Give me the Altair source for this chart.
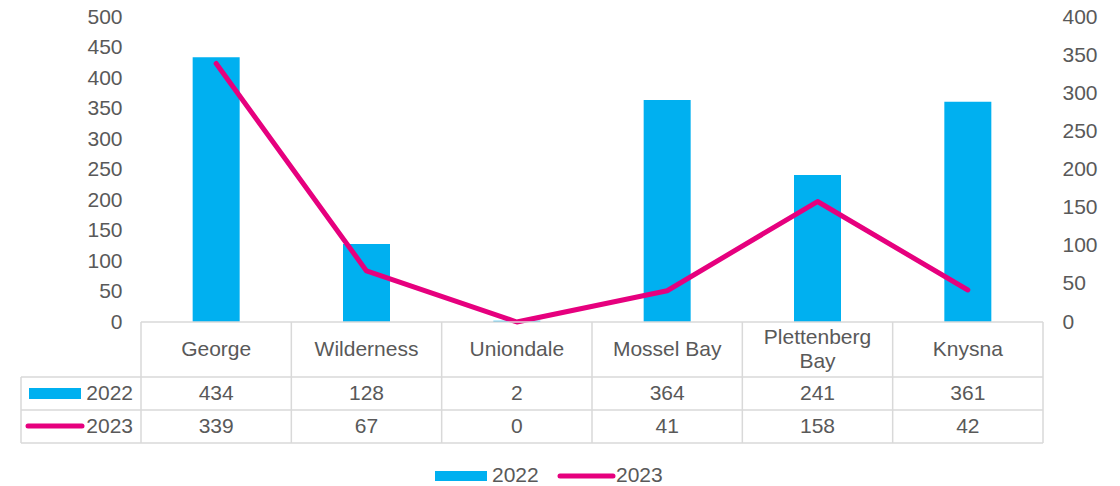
import altair as alt
import pandas as pd

# ---- data ----
categories = ["George", "Wilderness", "Uniondale", "Mossel Bay", "Plettenberg Bay", "Knysna"]
table_labels = ["George", "Wilderness", "Uniondale", "Mossel Bay", "Plettenberg\nBay", "Knysna"]
values_2022 = [434, 128, 2, 364, 241, 361]
values_2023 = [339, 67, 0, 41, 158, 42]
series_names = ["2022", "2023"]
left_ticks = list(range(0, 501, 50))
right_ticks = list(range(0, 401, 50))

df = pd.DataFrame({
    "cat": categories,
    "label": table_labels,
    "nlines": [lbl.count("\n") + 1 for lbl in table_labels],
    "v2022": values_2022,
    "v2023": values_2023,
})
one = pd.DataFrame({"k": [0]})

BLUE = "#00B0F0"
PINK = "#E6007E"
TXT = "#595959"
GRID = "#D9D9D9"
FONT = "Liberation Sans"
FS = 21

W, H = 902, 305
ROW_TOP, ROW1, ROW2, ROW3 = 305, 360, 393, 426
LEFT_EDGE = -120
LH = 24

X = alt.X("cat:N", sort=categories, scale=alt.Scale(paddingInner=0, paddingOuter=0), axis=None)

base = alt.Chart(df)

bars = base.mark_bar(color=BLUE, width=47).encode(
    x=X,
    y=alt.Y("v2022:Q", scale=alt.Scale(domain=[0, 500]),
            axis=alt.Axis(orient="left", values=left_ticks, title=None, grid=False, domain=False,
                          ticks=False, tickSize=0, labelPadding=19, labelFont=FONT,
                          labelFontSize=FS, labelColor=TXT)),
)

line = base.mark_line(color=PINK, strokeWidth=5, strokeCap="round", strokeJoin="round").encode(
    x=X,
    y=alt.Y("v2023:Q", scale=alt.Scale(domain=[0, 400]),
            axis=alt.Axis(orient="right", values=right_ticks, title=None, grid=False, domain=False,
                          ticks=False, tickSize=0, labelPadding=19, labelFont=FONT,
                          labelFontSize=FS, labelColor=TXT)),
)

# ---- data table ----
rule_kw = dict(color=GRID, strokeWidth=1.5)
deco = alt.Chart(one)
h_top = deco.mark_rule(**rule_kw).encode(x=alt.value(0), x2=alt.value(W), y=alt.value(ROW_TOP))
h1 = deco.mark_rule(**rule_kw).encode(x=alt.value(LEFT_EDGE), x2=alt.value(W), y=alt.value(ROW1))
h2 = deco.mark_rule(**rule_kw).encode(x=alt.value(LEFT_EDGE), x2=alt.value(W), y=alt.value(ROW2))
h3 = deco.mark_rule(**rule_kw).encode(x=alt.value(LEFT_EDGE), x2=alt.value(W), y=alt.value(ROW3))
v_left = deco.mark_rule(**rule_kw).encode(x=alt.value(LEFT_EDGE), y=alt.value(ROW1), y2=alt.value(ROW3))
v_right = deco.mark_rule(**rule_kw).encode(x=alt.value(W), y=alt.value(ROW_TOP), y2=alt.value(ROW3))
v_cats = base.mark_rule(**rule_kw).encode(
    x=alt.X("cat:N", sort=categories, bandPosition=0,
            scale=alt.Scale(paddingInner=0, paddingOuter=0), axis=None),
    y=alt.value(ROW_TOP), y2=alt.value(ROW3),
)

txt_kw = dict(font=FONT, fontSize=FS, color=TXT, baseline="middle")
hdr_single = base.mark_text(**txt_kw).encode(
    x=X, y=alt.value((ROW_TOP + ROW1) / 2), text="label:N"
).transform_filter("datum.nlines == 1")
hdr_multi = base.mark_text(lineBreak="\n", lineHeight=LH, **txt_kw).encode(
    x=X, y=alt.value((ROW_TOP + ROW1) / 2 - LH / 2), text="label:N"
).transform_filter("datum.nlines == 2")
r1 = base.mark_text(**txt_kw).encode(x=X, y=alt.value((ROW1 + ROW2) / 2), text="v2022:Q")
r2 = base.mark_text(**txt_kw).encode(x=X, y=alt.value((ROW2 + ROW3) / 2), text="v2023:Q")

lab1 = deco.mark_text(align="right", text=series_names[0], **txt_kw).encode(
    x=alt.value(-8), y=alt.value((ROW1 + ROW2) / 2))
lab2 = deco.mark_text(align="right", text=series_names[1], **txt_kw).encode(
    x=alt.value(-8), y=alt.value((ROW2 + ROW3) / 2))
sw1 = deco.mark_rect(color=BLUE).encode(
    x=alt.value(-112), x2=alt.value(-60), y=alt.value(371), y2=alt.value(382))
sw2 = deco.mark_rule(color=PINK, strokeWidth=5, strokeCap="round").encode(
    x=alt.value(-113), x2=alt.value(-59), y=alt.value(409))

# ---- bottom legend ----
lg1 = deco.mark_rect(color=BLUE).encode(
    x=alt.value(294), x2=alt.value(346), y=alt.value(454), y2=alt.value(464))
lgt1 = deco.mark_text(align="left", text=series_names[0], **txt_kw).encode(
    x=alt.value(351), y=alt.value(459))
lg2 = deco.mark_rule(color=PINK, strokeWidth=5, strokeCap="round").encode(
    x=alt.value(419), x2=alt.value(472), y=alt.value(459))
lgt2 = deco.mark_text(align="left", text=series_names[1], **txt_kw).encode(
    x=alt.value(475), y=alt.value(459))

chart = alt.layer(
    bars, line,
    h_top, h1, h2, h3, v_left, v_right, v_cats,
    hdr_single, hdr_multi, r1, r2, lab1, lab2, sw1, sw2,
    lg1, lgt1, lg2, lgt2,
).resolve_scale(y="independent").properties(
    width=W, height=H,
    autosize=alt.AutoSizeParams(type="none"),
    padding={"left": 141, "top": 17, "right": 77, "bottom": 164},
    background="white",
).configure_view(stroke=None)

chart.save("out.html", embed_options={"renderer": "svg", "actions": False})
